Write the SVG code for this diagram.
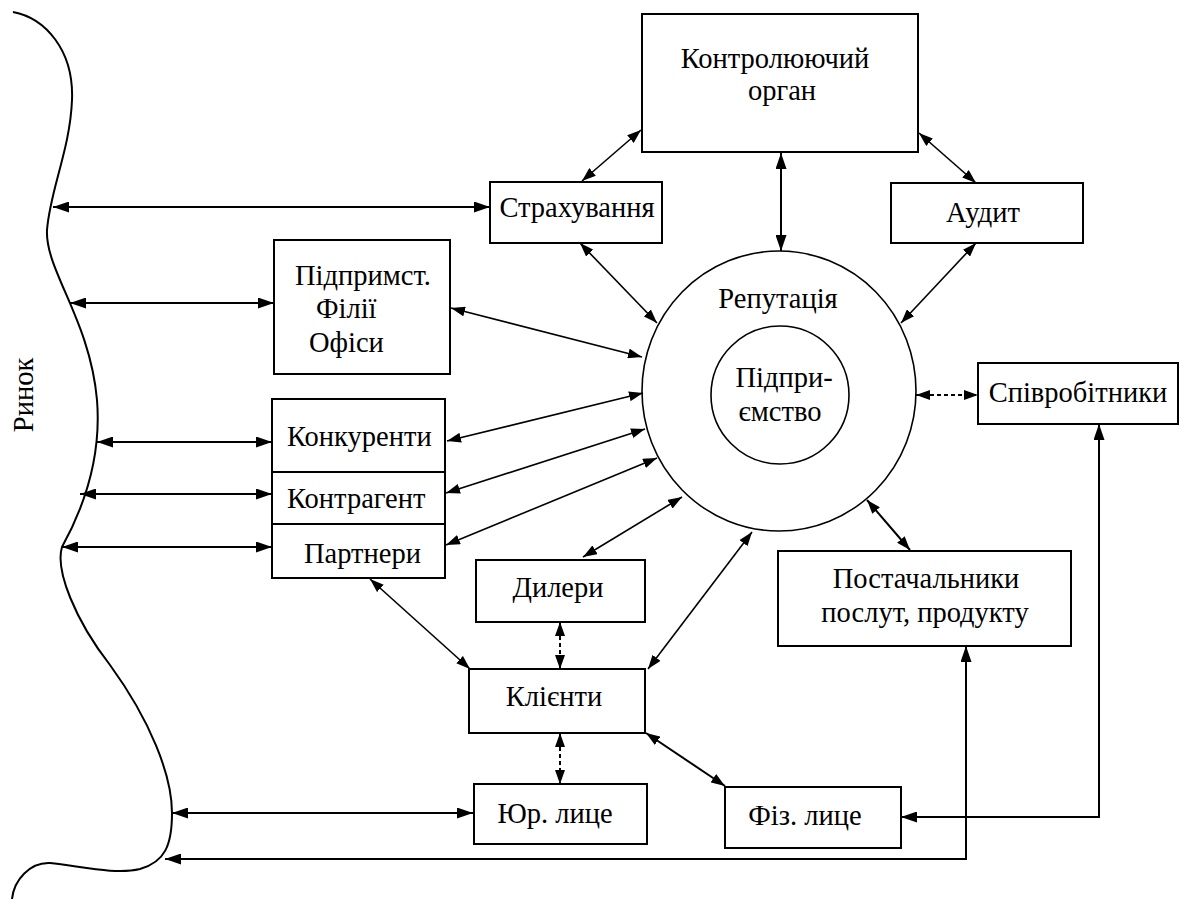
<svg xmlns="http://www.w3.org/2000/svg" width="1187" height="899" viewBox="0 0 1187 899">
<style>
  .box{fill:#fff;stroke:#000;stroke-width:2}
  .t{font-family:'Liberation Serif','Times New Roman',serif;font-size:28.5px;fill:#000}
  .m{text-anchor:middle}
  .c{fill:none;stroke:#000;stroke-width:2}
  .d{fill:none;stroke:#000;stroke-width:1.6}
  .dash{stroke-dasharray:4 3}
</style>
<defs>
  <marker id="ah" viewBox="0 0 16 11" refX="16" refY="5.5" markerWidth="16" markerHeight="11" markerUnits="userSpaceOnUse" orient="auto-start-reverse">
    <path d="M0,0 L16,5.5 L0,11 z" fill="#000"/>
  </marker>
  <marker id="as" viewBox="0 0 14 10" refX="14" refY="5" markerWidth="14" markerHeight="10" markerUnits="userSpaceOnUse" orient="auto-start-reverse">
    <path d="M0,0 L14,5 L0,10 z" fill="#000"/>
  </marker>
</defs>

<g id="market">
  <path d="M13,12 C45,18 74,50 72,100 C70,150 50,190 47,230 C45,270 90,320 97,400 C101,450 88,500 62,547 C55,570 75,620 110,665 C150,720 172,775 172,813 C172,845 165,862 140,869 C115,875 80,866 50,863 C30,862 14,880 12,899" fill="none" stroke="#000" stroke-width="2"/>
  <text class="t m" transform="translate(33,395) rotate(-90)">Ринок</text>
</g>

<g id="connectors">
  <line class="c" x1="53" y1="207" x2="490" y2="207" marker-start="url(#ah)" marker-end="url(#ah)"/>
  <line class="c" x1="70" y1="303" x2="274" y2="303" marker-start="url(#ah)" marker-end="url(#ah)"/>
  <line class="c" x1="97" y1="442" x2="272" y2="442" marker-start="url(#ah)" marker-end="url(#ah)"/>
  <line class="c" x1="80" y1="494" x2="272" y2="494" marker-start="url(#ah)" marker-end="url(#ah)"/>
  <line class="c" x1="62" y1="547" x2="272" y2="547" marker-start="url(#ah)" marker-end="url(#ah)"/>
  <line class="c" x1="172" y1="813" x2="473" y2="813" marker-start="url(#ah)" marker-end="url(#ah)"/>
  <polyline class="c" points="165,859 966,859 966,646" marker-start="url(#ah)" marker-end="url(#ah)"/>
  <polyline class="c" points="901,817 1099,817 1099,424" marker-start="url(#ah)" marker-end="url(#ah)"/>
  <line class="d" x1="582" y1="181" x2="641" y2="130" marker-start="url(#as)" marker-end="url(#as)"/>
  <line class="c" x1="781" y1="153" x2="781" y2="251" marker-start="url(#ah)" marker-end="url(#ah)"/>
  <line class="d" x1="919" y1="133" x2="976" y2="183" marker-start="url(#as)" marker-end="url(#as)"/>
  <line class="d" x1="580" y1="243" x2="657" y2="323" marker-start="url(#as)" marker-end="url(#as)"/>
  <line class="d" x1="976" y1="243" x2="901" y2="323" marker-start="url(#as)" marker-end="url(#as)"/>
  <line class="d" x1="451" y1="308" x2="642" y2="357" marker-start="url(#as)" marker-end="url(#as)"/>
  <line class="d" x1="447" y1="441" x2="643" y2="393" marker-start="url(#as)" marker-end="url(#as)"/>
  <line class="d" x1="446" y1="493" x2="645" y2="429" marker-start="url(#as)" marker-end="url(#as)"/>
  <line class="d" x1="446" y1="545" x2="657" y2="458" marker-start="url(#as)" marker-end="url(#as)"/>
  <line class="d" x1="583" y1="557" x2="682" y2="497" marker-start="url(#as)" marker-end="url(#as)"/>
  <line class="c dash" x1="916" y1="395" x2="978" y2="395" marker-start="url(#as)" marker-end="url(#as)"/>
  <line class="c" x1="867" y1="500" x2="910" y2="550" marker-start="url(#as)" marker-end="url(#as)"/>
  <line class="d" x1="752" y1="532" x2="648" y2="669" marker-start="url(#as)" marker-end="url(#as)"/>
  <line class="d" x1="370" y1="579" x2="470" y2="669" marker-start="url(#as)" marker-end="url(#as)"/>
  <line class="c dash" x1="560" y1="622" x2="560" y2="669" marker-start="url(#as)" marker-end="url(#as)"/>
  <line class="c dash" x1="560" y1="733" x2="560" y2="784" marker-start="url(#as)" marker-end="url(#as)"/>
  <line class="c" x1="646" y1="733" x2="725" y2="786" marker-start="url(#as)" marker-end="url(#as)"/>
</g>

<g id="kontrol">
  <rect class="box" x="642" y="14" width="276" height="138"/>
  <text class="t m" x="775" y="68">Контролюючий</text>
  <text class="t m" x="782" y="100">орган</text>
</g>
<g id="strakh">
  <rect class="box" x="490" y="182" width="172" height="61"/>
  <text class="t m" x="577" y="217">Страхування</text>
</g>
<g id="audyt">
  <rect class="box" x="891" y="183" width="192" height="60"/>
  <text class="t m" x="983" y="222">Аудит</text>
</g>
<g id="reputatsiia">
  <ellipse cx="779" cy="391" rx="137" ry="140" fill="none" stroke="#000" stroke-width="1.6"/>
  <text class="t m" x="778" y="308">Репутація</text>
</g>
<g id="pidpryiemstvo">
  <circle cx="780" cy="395" r="69" fill="none" stroke="#000" stroke-width="1.6"/>
  <text class="t m" x="784" y="387">Підпри-</text>
  <text class="t m" x="780" y="421">ємство</text>
</g>
<g id="filii">
  <rect class="box" x="274" y="240" width="176" height="134"/>
  <text class="t" x="295" y="285">Підпримст.</text>
  <text class="t" x="316" y="318">Філії</text>
  <text class="t" x="309" y="352">Офіси</text>
</g>
<g id="konkurenty">
  <rect class="box" x="272" y="399" width="173" height="73"/>
  <text class="t" x="287" y="446">Конкуренти</text>
</g>
<g id="kontragent">
  <rect class="box" x="272" y="472" width="173" height="52"/>
  <text class="t" x="287" y="508">Контрагент</text>
</g>
<g id="partnery">
  <rect class="box" x="272" y="524" width="173" height="54"/>
  <text class="t" x="304" y="563">Партнери</text>
</g>
<g id="spivrobitnyky">
  <rect class="box" x="978" y="363" width="200" height="61"/>
  <text class="t m" x="1078" y="402">Співробітники</text>
</g>
<g id="postachalnyky">
  <rect class="box" x="778" y="551" width="293" height="95"/>
  <text class="t m" x="926" y="588">Постачальники</text>
  <text class="t m" x="925" y="622">послут, продукту</text>
</g>
<g id="dylery">
  <rect class="box" x="476" y="560" width="169" height="62"/>
  <text class="t m" x="558" y="597">Дилери</text>
</g>
<g id="kliienty">
  <rect class="box" x="469" y="669" width="176" height="64"/>
  <text class="t m" x="554" y="706">Клієнти</text>
</g>
<g id="iur">
  <rect class="box" x="474" y="784" width="173" height="60"/>
  <text class="t m" x="555" y="823">Юр. лице</text>
</g>
<g id="fiz">
  <rect class="box" x="725" y="787" width="176" height="61"/>
  <text class="t m" x="805" y="825">Фіз. лице</text>
</g>
</svg>
